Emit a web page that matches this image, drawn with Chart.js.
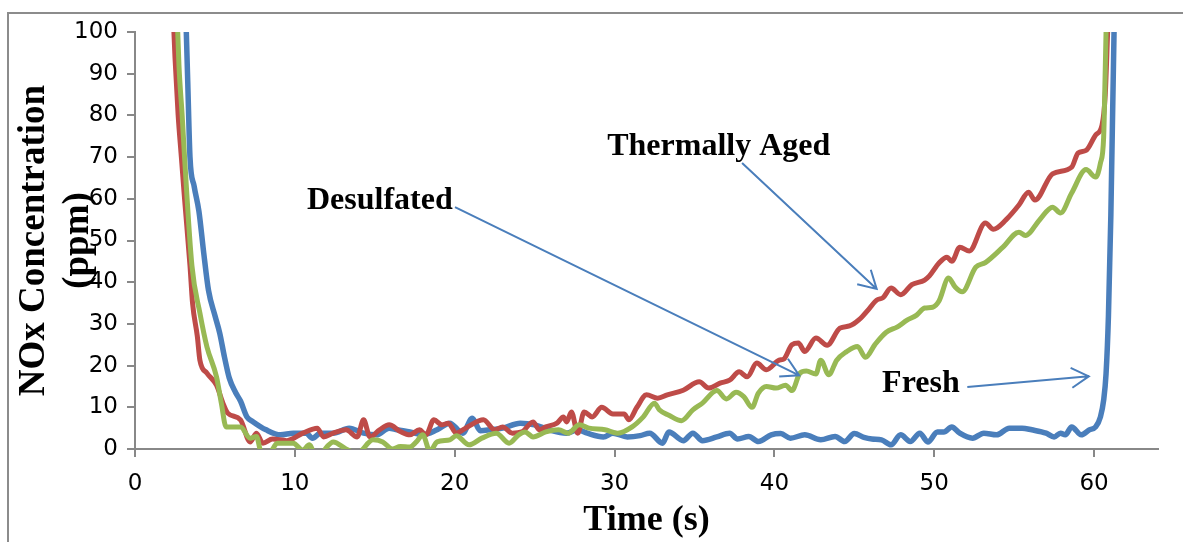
<!DOCTYPE html>
<html>
<head>
<meta charset="utf-8">
<script src="https://cdn.jsdelivr.net/npm/chart.js@4.4.1/dist/chart.umd.min.js"></script>
<style>
  html, body { margin: 0; padding: 0; background: #fff; }
  #wrap { position: relative; width: 1183px; height: 542px; overflow: hidden; }
  #frame { position: absolute; left: 7px; top: 12px; width: 1300px; height: 700px;
           border-left: 2px solid #8c8c8c; border-top: 2px solid #8c8c8c; }
  canvas { position: absolute; left: 0; top: 0; }
</style>
</head>
<body>
<div id="wrap"><div id="frame"></div><canvas id="chart" width="1183" height="542"></canvas></div>
<script>
// Fresh catalyst (blue)
const freshTime = [3.15, 3.3, 3.44, 3.7, 4.0, 4.3, 4.6, 5.0, 5.3, 5.6, 5.9, 6.3, 6.6, 7.0, 7.4, 8.2, 9.1, 9.9,
  10.7, 11.1, 11.6, 12.4, 13.4, 14.3, 15.1, 15.9, 16.4, 17.2, 18.0, 18.9, 19.7, 20.2, 20.5, 21.1, 21.6, 22.2,
  23.0, 24.1, 25.0, 25.9, 27.0, 27.7, 28.3, 29.3, 29.9, 30.8, 31.6, 32.2, 33.0, 33.4, 34.3, 34.9, 35.5, 36.4,
  37.2, 37.7, 38.4, 39.0, 39.8, 40.4, 41.0, 41.9, 42.9, 43.8, 44.4, 45.0, 45.6, 46.1, 46.7, 47.3, 47.9, 48.5,
  49.1, 49.6, 50.2, 50.6, 51.1, 51.6, 52.4, 53.1, 53.9, 54.7, 55.5, 56.1, 57.0, 57.5, 57.9, 58.2, 58.6, 59.2,
  59.7, 60.1, 60.4, 60.6, 60.75, 60.9, 61.05, 61.25, 61.35];
const freshNox = [108, 88, 70, 63, 57, 47, 38, 32, 27.8, 22, 17, 13.5, 11.5, 7.7, 6.5, 4.6, 3.4, 3.8,
  3.8, 2.6, 3.8, 3.8, 5.0, 3.8, 3.4, 5.0, 4.6, 4.1, 3.4, 4.6, 6.2, 4.6, 3.8, 7.4, 4.4, 4.6,
  5.0, 6.2, 5.8, 4.6, 3.8, 4.6, 3.8, 2.9, 3.8, 2.9, 3.2, 3.8, 1.4, 4.1, 2.0, 3.8, 2.0, 2.9,
  3.8, 2.4, 3.0, 1.8, 3.4, 3.7, 2.6, 3.4, 2.2, 3.0, 1.8, 3.7, 2.8, 2.4, 2.2, 1.0, 3.4, 1.8,
  3.8, 1.7, 4.1, 4.1, 5.3, 3.8, 2.6, 3.8, 3.4, 5.0, 5.0, 4.6, 3.8, 2.9, 3.8, 3.4, 5.3, 3.4,
  4.6, 5.3, 7.7, 11.7, 18, 32, 56, 100, 115];

// Thermally aged catalyst (red)
const agedTime = [2.35, 2.5, 2.7, 2.9, 3.1, 3.44, 3.6, 3.9, 4.06, 4.5, 5.1, 5.5, 5.8, 6.6, 7.2, 7.6, 8.0, 8.6,
  9.5, 10.5, 11.4, 11.8, 12.4, 13.2, 13.9, 14.3, 14.7, 15.3, 15.9, 16.6, 17.2, 17.8, 18.2, 18.7, 19.2, 19.6,
  20.1, 20.8, 21.8, 22.5, 23.0, 23.6, 24.2, 24.9, 25.3, 25.7, 26.4, 26.8, 27.0, 27.3, 27.7, 28.1, 28.6, 29.2,
  29.9, 30.6, 30.9, 31.4, 32.0, 32.7, 33.3, 34.3, 35.3, 35.9, 36.6, 37.2, 37.8, 38.3, 38.9, 39.5, 40.3, 40.6,
  41.1, 41.5, 41.9, 42.6, 43.3, 44.1, 44.7, 45.3, 45.9, 46.4, 46.8, 47.3, 47.9, 48.6, 49.4, 49.7, 50.3, 50.8,
  51.1, 51.6, 52.2, 53.2, 53.7, 54.5, 55.3, 55.9, 56.3, 57.4, 58.6, 59.0, 59.5, 60.1, 60.5, 60.7, 60.85, 60.95];
const agedNox = [108, 94, 80, 70, 60, 44, 35, 27, 21.3, 18.2, 15.3, 11, 8.6, 7.0, 1.7, 3.8, 1.4, 2.4,
  2.0, 3.8, 5.0, 2.9, 3.8, 4.6, 2.9, 7.0, 2.9, 4.6, 5.8, 4.2, 3.4, 4.6, 3.4, 7.0, 5.8, 6.2,
  3.8, 5.3, 7.0, 4.6, 5.3, 3.8, 4.1, 6.5, 4.6, 5.3, 6.2, 7.7, 6.5, 8.9, 3.8, 8.9, 7.7, 10.0,
  8.4, 8.4, 7.0, 10.0, 13.0, 12.2, 13.0, 14.1, 16.1, 14.6, 15.8, 16.5, 18.5, 17.3, 20.6, 19.0, 21.3, 21.6,
  25.0, 25.4, 23.4, 26.6, 24.9, 29.0, 29.5, 31.0, 33.5, 35.7, 36.3, 38.6, 37.0, 39.4, 40.5, 41.5, 44.6, 46.0,
  45.0, 48.4, 47.5, 54.2, 52.7, 55.0, 58.5, 61.6, 59.7, 66.0, 67.6, 71.0, 71.6, 75.3, 77.7, 85, 100, 110];

// Desulfated catalyst (green)
const desulfTime = [2.6, 2.75, 2.95, 3.1, 3.56, 4.06, 4.5, 5.1, 5.4, 5.7, 6.1, 6.6, 7.2, 7.6, 7.9, 8.4, 8.9, 9.9,
  10.5, 10.9, 11.4, 12.0, 12.4, 13.2, 13.9, 14.9, 15.5, 16.1, 16.6, 17.2, 17.6, 18.0, 18.45, 18.9, 19.7, 20.1,
  20.9, 21.7, 22.6, 23.4, 24.0, 24.4, 24.9, 25.7, 26.5, 27.1, 27.8, 28.4, 29.4, 30.2, 31.1, 31.8, 32.5, 32.8,
  33.4, 34.2, 34.9, 35.5, 36.4, 37.0, 37.6, 38.1, 38.6, 39.0, 39.5, 40.1, 40.7, 41.1, 41.6, 42.0, 42.6, 42.9,
  43.4, 43.9, 44.5, 45.2, 45.7, 46.3, 47.0, 47.7, 48.3, 48.9, 49.4, 49.9, 50.3, 50.9, 51.3, 51.75, 52.6, 53.2,
  54.3, 55.3, 55.7, 56.6, 57.4, 57.9, 58.6, 59.5, 60.1, 60.4, 60.6, 60.7, 60.75, 60.8];
const desulfNox = [108, 92, 80, 70, 44, 32.6, 24.5, 17.3, 11, 5.3, 5.3, 5.3, 2.6, 3.0, -0.8, -1.0, 1.4, 1.4,
  -0.3, 1.0, -2.5, 0.5, 1.7, 0.0, -1.0, 2.2, 1.7, 0.0, 0.6, 0.5, 1.7, 3.4, -0.5, 1.7, 2.2, 3.2,
  1.0, 2.6, 3.8, 1.4, 3.4, 4.1, 2.9, 4.1, 4.6, 3.8, 5.8, 5.0, 4.6, 3.8, 5.3, 7.7, 11.0, 9.4,
  8.1, 6.8, 9.4, 11.0, 14.0, 12.0, 13.6, 12.5, 10.0, 13.4, 15.0, 14.6, 15.3, 14.0, 18.2, 18.7, 18.0, 21.3,
  17.8, 21.3, 23.3, 24.6, 22.0, 25.1, 28.0, 29.3, 30.9, 32.1, 33.8, 34.0, 35.5, 41.0, 38.9, 37.7, 43.6, 44.7,
  48.4, 52.0, 51.2, 55.0, 58.0, 56.6, 61.4, 67.0, 65.2, 68.6, 74.8, 91, 100, 110];

const xTicksMax = 64;
const yTicks = [0, 100];

// annotation labels and arrows, in data units
const notes = [
  { text: 'Thermally Aged', at: [29.54, 70.47] },
  { text: 'Desulfated', at: [10.76, 57.54] },
  { text: 'Fresh', at: [46.74, 13.7] }
];
const arrows = [
  { from: [37.98, 68.56], to: [46.40, 38.39] },
  { from: [20.02, 58.02], to: [41.55, 17.67] },
  { from: [52.07, 14.85], to: [59.67, 17.43] }
];

function points(ts, vs) {
  return ts.map((t, i) => ({ x: t, y: vs[i] }));
}

const notePlugin = {
  id: 'notes',
  afterDatasetsDraw(chart) {
    const ctx = chart.ctx;
    const xs = chart.scales.x, ys = chart.scales.y;
    ctx.save();
    ctx.fillStyle = '#000';
    ctx.font = 'bold 32px "Liberation Serif"';
    ctx.textBaseline = 'alphabetic';
    notes.forEach(n => {
      ctx.fillText(n.text, xs.getPixelForValue(n.at[0]), ys.getPixelForValue(n.at[1]));
    });
    ctx.strokeStyle = '#4a7ebb';
    ctx.lineWidth = 2;
    arrows.forEach(a => {
      const x1 = xs.getPixelForValue(a.from[0]), y1 = ys.getPixelForValue(a.from[1]);
      const x2 = xs.getPixelForValue(a.to[0]), y2 = ys.getPixelForValue(a.to[1]);
      const ang = Math.atan2(y1 - y2, x1 - x2);
      ctx.beginPath();
      ctx.moveTo(x1, y1);
      ctx.lineTo(x2, y2);
      ctx.moveTo(x2 + 20 * Math.cos(ang + 0.52), y2 + 20 * Math.sin(ang + 0.52));
      ctx.lineTo(x2, y2);
      ctx.lineTo(x2 + 20 * Math.cos(ang - 0.52), y2 + 20 * Math.sin(ang - 0.52));
      ctx.stroke();
    });
    ctx.restore();
  }
};

const axisGrey = '#888888';

new Chart(document.getElementById('chart'), {
  type: 'line',
  data: {
    datasets: [
      { label: 'Desulfated', data: points(desulfTime, desulfNox), borderColor: '#98b954', borderWidth: 5 },
      { label: 'Thermally Aged', data: points(agedTime, agedNox), borderColor: '#be4b48', borderWidth: 5 },
      { label: 'Fresh', data: points(freshTime, freshNox), borderColor: '#4a7ebb', borderWidth: 5.5 }
    ]
  },
  options: {
    responsive: false,
    animation: false,
    events: [],
    clip: 0,
    elements: {
      point: { radius: 0 },
      line: { cubicInterpolationMode: 'monotone', fill: false, borderCapStyle: 'round', borderJoinStyle: 'round' }
    },
    layout: { padding: { top: 32, right: 25, left: 0, bottom: 0 } },
    plugins: { legend: { display: false }, tooltip: { enabled: false } },
    scales: {
      x: {
        type: 'linear',
        min: 0,
        max: xTicksMax,
        afterFit: s => { s.height = 93; },
        ticks: { stepSize: 10, includeBounds: false, padding: 13, color: '#000',
                 font: { family: '"DejaVu Sans"', size: 23 } },
        grid: { drawOnChartArea: false, drawTicks: true, tickLength: 8, color: axisGrey, lineWidth: 2 },
        border: { display: true, color: axisGrey, width: 2 },
        title: { display: true, text: 'Time (s)', color: '#000', padding: 0,
                 font: { family: '"Liberation Serif"', size: 36, weight: 'bold' } }
      },
      y: {
        min: yTicks[0],
        max: yTicks[1],
        afterFit: s => { s.width = 135; },
        ticks: { stepSize: 10, padding: 9, color: '#000',
                 font: { family: '"DejaVu Sans"', size: 23 } },
        grid: { drawOnChartArea: false, drawTicks: true, tickLength: 8, color: axisGrey, lineWidth: 2 },
        border: { display: true, color: axisGrey, width: 2 },
        title: { display: true, text: ['NOx Concentration', '(ppm)'], color: '#000',
                 padding: { top: 12, bottom: 0 },
                 font: { family: '"Liberation Serif"', size: 37, weight: 'bold' } }
      }
    }
  },
  plugins: [notePlugin]
});
</script>
</body>
</html>
